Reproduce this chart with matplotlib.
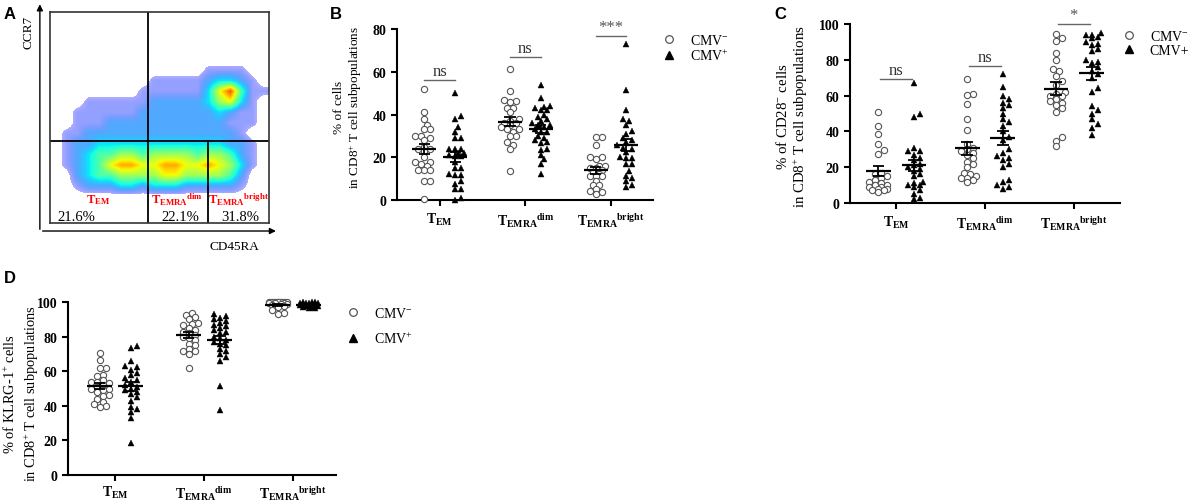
import numpy as np
import matplotlib
matplotlib.use('Agg')
import matplotlib.pyplot as plt
from matplotlib.lines import Line2D
from matplotlib.colors import ListedColormap

plt.rcParams['font.family'] = ['Liberation Serif', 'DejaVu Serif']
plt.rcParams['mathtext.fontset'] = 'custom'
plt.rcParams['mathtext.rm'] = 'Liberation Serif'
plt.rcParams['mathtext.it'] = 'Liberation Serif:italic'
plt.rcParams['mathtext.bf'] = 'Liberation Serif:bold'

# ---- data ----
groups = [r'$\mathbf{T_{EM}}$',
          r'$\mathbf{T_{EMRA}}^{\mathbf{dim}}$',
          r'$\mathbf{T_{EMRA}}^{\mathbf{bright}}$']

# panel B: % of cells in CD8+ T cell subpopulations
b_neg = [[52, 41, 38, 35, 33, 33, 30, 30, 29, 28, 25, 24, 24, 23, 20, 18, 18, 17, 16, 14, 14, 14, 9, 9, 0.5],
         [61.5, 50.8, 47, 46.5, 46, 43, 43, 41, 38, 37, 36, 36, 35, 34, 33, 33, 32, 30, 30, 27, 25.7, 23.8, 13.7],
         [29.7, 29.7, 25.7, 20, 20, 19, 16, 16, 15, 15, 14, 13, 12, 11.4, 11.4, 11.4, 9, 7, 7, 5, 4.4, 3.6, 2.8]]
b_pos = [[50, 39.5, 38, 34, 32, 29, 29, 24, 24, 24, 22, 22, 21, 20.5, 20.5, 18, 15, 15, 12, 11.5, 11.5, 9, 7.5, 5, 5, 1, 0],
         [54, 47.5, 44, 43.5, 43, 42, 42, 40, 39, 38, 37, 36, 35, 35, 34, 33, 32, 32, 30, 29, 28, 27, 26.8, 24, 23.5, 21, 19, 17, 12],
         [73, 51.5, 42, 38, 37, 35, 32.5, 31, 29, 28, 27, 25.7, 24.5, 24, 22.5, 20, 19.5, 19.5, 17, 17, 13.7, 11.4, 10.5, 9, 7, 6]]
b_sig = ['ns', 'ns', '***']
b_sig_y = [56, 66.7, 76.8]

# panel C: % of CD28- cells
c_neg = [[50.6, 43, 38.5, 33, 29.6, 27.4, 17, 16, 15, 14, 13, 12, 11, 10, 10, 9, 9, 8, 8, 7, 7, 6],
         [69.3, 61, 60.3, 55.3, 47, 40.8, 33, 31, 30, 29, 28, 27, 25, 23, 22, 20, 17, 16, 15, 14, 14, 13, 12],
         [94.4, 92.2, 90.7, 83.6, 80, 74.9, 73.6, 71, 68, 66, 62, 61, 60, 60, 58, 57, 56, 55, 53, 51, 36.7, 34.8, 32]]
c_pos = [[67, 49.7, 47.9, 31, 29, 29, 27, 25, 24, 22, 21, 20, 19, 18, 16, 15, 12, 11, 10, 10, 9, 7, 5, 3, 2],
         [72, 65, 60, 58, 56, 55, 53, 50, 47, 45, 43, 40, 37, 35, 30, 28, 26, 25, 24, 22, 20, 13, 12, 10, 9, 8],
         [95, 94, 94, 93, 92, 90, 89, 88, 86, 85, 80, 79, 78, 76, 74, 72, 70, 64, 62, 54, 52, 50, 47, 44, 42, 38]]
c_sig = ['ns', 'ns', '*']
c_sig_y = [69.3, 76.4, 100]

# panel D: % of KLRG-1+ cells
d_neg = [[70.5, 66.7, 62, 62, 58, 57, 55, 54, 54, 53, 52, 51, 50, 50, 49, 48, 46, 45.7, 44, 42, 41, 40, 39.4],
         [93.9, 92.5, 91.4, 90, 88, 87.6, 86.7, 85, 84, 83, 82, 81, 80, 79, 78, 76, 75, 73, 72, 71.5, 70, 61.9],
         [100, 100, 100, 100, 100, 100, 100, 100, 99.8, 99.5, 99.5, 99, 98.8, 98.5, 98, 97, 95.5, 94, 93.3]]
d_pos = [[74.9, 73.7, 66, 62.9, 62.5, 61, 59, 58, 56, 55, 54, 52, 51, 50, 49, 48, 47, 45, 43, 39.4, 38, 36.2, 33, 18.5],
         [93, 92, 91, 90, 89, 88, 87, 86, 85, 84, 83, 82, 80, 79, 78, 77, 76, 75, 73, 72, 70, 68, 66, 51.4, 37.5],
         [100, 100, 100, 99.8, 99.6, 99.5, 99.3, 99, 99, 98.8, 98.5, 98.2, 98, 97.8, 97.5, 97, 96.8, 96.5]]

# panel A: rough event density (rows top -> bottom, CD45RA/CCR7 0..100)
flow_density = [
    [0, 0, 0, 0, 0, 0, 0, 0, 0, 0, 0, 0, 0, 0, 0, 0, 0, 0, 0, 0],
    [0, 0, 0, 0, 0, 0, 0, 0, 0, 0, 0, 0, 0, 0, 0, 0, 0, 0, 0, 0],
    [0, 0, 0, 0, 0, 0, 0, 0, 0, 0, 0, 0, 0, 0, 0, 0, 0, 0, 0, 0],
    [0, 0, 0, 0, 0, 0, 0, 0, 0, 0, 0, 0, 0, 0, 0, 0, 0, 0, 0, 0],
    [0, 0, 0, 0, 0, 0, 0, 0, 0, 0, 0, 0, 0, 0, 0, 0, 0, 0, 0, 0],
    [0, 0, 0, 0, 0, 0, 0, 0, 0, 0, 0, 0, 0, 0, 1, 1, 1, 1, 0, 0],
    [0, 0, 0, 0, 0, 0, 0, 0, 0, 1, 1, 1, 1, 1, 2, 3, 3, 2, 1, 0],
    [0, 0, 0, 0, 0, 0, 0, 0, 1, 1, 1, 1, 1, 1, 3, 6, 8, 4, 1, 1],
    [0, 0, 0, 1, 1, 1, 1, 1, 1, 2, 2, 2, 2, 2, 3, 5, 6, 3, 1, 0],
    [0, 0, 1, 1, 1, 1, 1, 1, 2, 2, 2, 2, 2, 2, 2, 3, 2, 1, 1, 0],
    [0, 0, 1, 1, 1, 2, 2, 2, 2, 2, 2, 2, 2, 2, 2, 2, 1, 1, 1, 0],
    [0, 1, 1, 2, 2, 2, 2, 2, 2, 2, 2, 2, 2, 2, 2, 2, 2, 1, 0, 0],
    [0, 1, 2, 2, 3, 3, 3, 3, 3, 3, 3, 3, 3, 3, 3, 3, 2, 2, 1, 0],
    [0, 1, 2, 3, 4, 4, 5, 5, 4, 5, 5, 5, 5, 4, 5, 5, 4, 2, 1, 0],
    [0, 1, 2, 3, 4, 6, 7, 7, 6, 6, 7, 7, 6, 6, 7, 6, 5, 3, 1, 0],
    [0, 0, 2, 3, 4, 4, 5, 5, 5, 5, 6, 6, 5, 5, 5, 5, 4, 2, 0, 0],
    [0, 0, 1, 2, 2, 2, 3, 3, 2, 3, 3, 3, 2, 2, 2, 2, 2, 1, 0, 0],
    [0, 0, 0, 0, 0, 0, 0, 0, 0, 0, 0, 0, 0, 0, 0, 0, 0, 0, 0, 0],
    [0, 0, 0, 0, 0, 0, 0, 0, 0, 0, 0, 0, 0, 0, 0, 0, 0, 0, 0, 0],
    [0, 0, 0, 0, 0, 0, 0, 0, 0, 0, 0, 0, 0, 0, 0, 0, 0, 0, 0, 0],
]
gate_x = [44.7, 72.1]
gate_y = 38.9
gate_names = [r'$\mathbf{T_{EM}}$', r'$\mathbf{T_{EMRA}}^{\mathbf{dim}}$', r'$\mathbf{T_{EMRA}}^{\mathbf{bright}}$']
gate_pct = ['21.6%', '22.1%', '31.8%']

GREY = '#555555'


def swarm(vals, px_x, px_y, d=5.0, step=3.0, nmax=3):
    vals = np.asarray(vals, float)
    cands = [0.0]
    for k in range(1, nmax + 1):
        cands += [k * step, -k * step]
    placed = []
    offs = np.zeros(len(vals))
    for i in np.argsort(vals):
        y = vals[i] * px_y
        best, best_d = 0.0, -1
        for c in cands:
            md = min([np.hypot(c - px, y - py) for px, py in placed] or [99])
            if md >= d:
                best = c
                break
            if md > best_d:
                best, best_d = c, md
        placed.append((best, y))
        offs[i] = best / px_x
    return offs


def dot_panel(ax, neg, pos, ymax, xlim, off, ylabel, label_x, label_y,
              xpad=4, lsize=9.5, lspace=1.2):
    ax.set_xlim(*xlim)
    ax.set_ylim(0, ymax)
    px_x = ax.bbox.width / (xlim[1] - xlim[0])
    px_y = ax.bbox.height / ymax
    for i in range(3):
        for vals, sgn, mk in ((neg[i], -1, 'o'), (pos[i], 1, '^')):
            xc = i + sgn * off
            xs = xc + swarm(vals, px_x, px_y)
            if mk == 'o':
                ax.plot(xs, vals, 'o', ms=4.5, mfc='white', mec=GREY, mew=0.8,
                        ls='none', clip_on=False, zorder=3)
            else:
                ax.plot(xs, vals, '^', ms=5.0, mfc='black', mec='black', mew=0.3,
                        ls='none', clip_on=False, zorder=3)
            m = np.mean(vals)
            se = np.std(vals, ddof=1) / np.sqrt(len(vals))
            ax.hlines(m, xc - 0.14, xc + 0.14, color='black', lw=1.6, zorder=4)
            ax.vlines(xc, m - se, m + se, color='black', lw=1.3, zorder=4)
            ax.hlines([m - se, m + se], xc - 0.065, xc + 0.065, color='black', lw=1.3, zorder=4)
    for s in ('top', 'right'):
        ax.spines[s].set_visible(False)
    for s in ('left', 'bottom'):
        ax.spines[s].set_linewidth(1.5)
    ax.set_yticks(np.arange(0, ymax + 1, 20))
    ax.set_xticks(range(3))
    ax.set_xticklabels(groups)
    ax.tick_params(width=1.5, length=4, labelsize=10)
    ax.tick_params(axis='x', pad=xpad)
    for lab in ax.get_yticklabels():
        lab.set_fontweight('bold')
    ax.set_ylabel(ylabel, fontsize=lsize, linespacing=lspace)
    ax.yaxis.set_label_coords(label_x, label_y)


def sig_bars(ax, texts, ys):
    for i, (t, y) in enumerate(zip(texts, ys)):
        ax.plot([i - 0.18, i + 0.18], [y, y], color='#666666', lw=1.0, clip_on=False)
        ax.text(i, y + 0.6, t, ha='center', va='bottom', fontsize=12,
                color='#333333' if t == 'ns' else '#555555', clip_on=False)


def legend(ax, labels, x, y, spacing):
    h = [Line2D([], [], marker='o', ls='none', ms=5.5, mfc='white', mec=GREY, mew=0.9),
         Line2D([], [], marker='^', ls='none', ms=5.5, mfc='black', mec='black')]
    ax.legend(h, labels, loc='upper left', bbox_to_anchor=(x, y), bbox_transform=fig.transFigure,
              frameon=False, fontsize=10, handlelength=1.0, handletextpad=1.0,
              borderpad=0, borderaxespad=0, labelspacing=spacing)


fig = plt.figure(figsize=(11.92, 5.02), dpi=100)

# ---- panel A ----
axA = fig.add_axes([0.0419, 0.5538, 0.1837, 0.4203])
cols = plt.cm.jet(np.linspace(0.12, 0.92, 256))
cols[:, 3] = np.clip(0.32 + 2.2 * np.linspace(0, 1, 256), 0, 1)
cmap = ListedColormap(cols)
cmap.set_under((1, 1, 1, 0))
axA.imshow(np.array(flow_density, float), extent=(0, 100, 0, 100), origin='upper', cmap=cmap,
           vmin=0.6, vmax=9, interpolation='bilinear', aspect='auto')
axA.set_xlim(0, 100)
axA.set_ylim(0, 100)
axA.set_xticks([])
axA.set_yticks([])
for s in axA.spines.values():
    s.set_linewidth(1.2)
    s.set_color('#333333')
axA.plot([gate_x[0]] * 2, [0, 100], color='black', lw=1.3)
axA.plot([0, 100], [gate_y] * 2, color='black', lw=1.3)
axA.plot([gate_x[1]] * 2, [0, gate_y], color='black', lw=1.3)
for name, pct, xn, xp in zip(gate_names, gate_pct, [21.9, 58, 86.3], [11.9, 59.4, 86.8]):
    axA.text(xn, 11.5, name, color='red', fontsize=9, ha='center', va='center')
    axA.text(xp, 3.3, pct, fontsize=10.5, ha='center', va='center')
axA.annotate('', xy=(-0.046, 1.05), xytext=(-0.046, -0.043), xycoords='axes fraction',
             arrowprops=dict(arrowstyle='-|>', color='black', lw=1.0, mutation_scale=9))
axA.annotate('', xy=(1.045, -0.038), xytext=(-0.046, -0.038), xycoords='axes fraction',
             arrowprops=dict(arrowstyle='-|>', color='black', lw=1.0, mutation_scale=9))
fig.text(0.0235, 0.935, 'CCR7', rotation=90, ha='center', va='center', fontsize=9.5)
fig.text(0.1963, 0.508, 'CD45RA', ha='center', va='center', fontsize=9.5)

# ---- panel B ----
axB = fig.add_axes([0.333, 0.5996, 0.2148, 0.3406])
dot_panel(axB, b_neg, b_pos, 80, (-0.5, 2.49), 0.18,
          '% of cells\nin CD8$^{+}$ T cell subpopulations', -0.13, 0.547,
          lsize=9.5, lspace=1.15)
sig_bars(axB, b_sig, b_sig_y)
legend(axB, ['CMV$^{-}$', 'CMV$^{+}$'], 0.5554, 0.932, 0.05)

# ---- panel C ----
axC = fig.add_axes([0.7131, 0.5936, 0.2265, 0.3566])
dot_panel(axC, c_neg, c_pos, 100, (-0.52, 2.52), 0.2,
          '% of CD28$^{-}$ cells\nin CD8$^{+}$ T cell subpopulations', -0.148, 0.49,
          lsize=10.7, lspace=1.15)
sig_bars(axC, c_sig, c_sig_y)
legend(axC, ['CMV$^{-}$', 'CMV+'], 0.9413, 0.940, 0.05)

# ---- panel D ----
axD = fig.add_axes([0.0570, 0.0520, 0.2248, 0.3440])
dot_panel(axD, d_neg, d_pos, 100, (-0.53, 2.48), 0.175,
          '% of KLRG-1$^{+}$ cells\nin CD8$^{+}$ T cell subpopulations', -0.102, 0.475,
          xpad=2.5, lsize=10.4, lspace=1.3)
legend(axD, ['CMV$^{-}$', 'CMV$^{+}$'], 0.2903, 0.388, 0.75)

# panel letters
for lbl, x, y in (('A', 0.003, 0.972), ('B', 0.277, 0.972), ('C', 0.650, 0.972), ('D', 0.003, 0.445)):
    fig.text(x, y, lbl, fontsize=12, fontweight='bold', family='Liberation Sans', va='center')

fig.savefig('out.png', dpi=100)
